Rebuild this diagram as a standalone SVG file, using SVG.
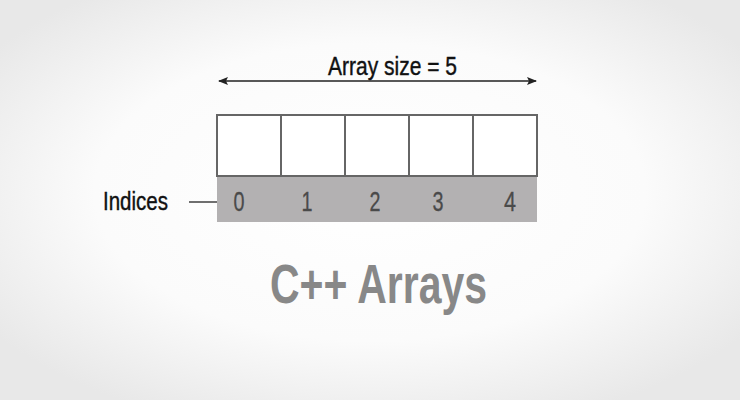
<svg xmlns="http://www.w3.org/2000/svg" width="740" height="400" viewBox="0 0 740 400">
<defs>
<radialGradient id="bg" cx="50%" cy="48%" r="62%">
<stop offset="0" stop-color="#ffffff"/>
<stop offset="0.6" stop-color="#fbfbfb"/>
<stop offset="1" stop-color="#e8e8e8"/>
</radialGradient>
<marker id="ah" viewBox="0 0 10 10" refX="9" refY="5" markerWidth="10" markerHeight="10" markerUnits="userSpaceOnUse" orient="auto-start-reverse">
<path d="M0,1 L10,5 L0,9 L2,5 Z" fill="#222"/>
</marker>
<style>
.cell{fill:#fff;stroke:#666;stroke-width:2}
.idx{font-family:"Liberation Sans",sans-serif;font-size:28px;fill:#4a4a4a;stroke:#4a4a4a;stroke-width:0.3;text-anchor:middle}
.lbl{font-family:"Liberation Sans",sans-serif;font-size:25px;fill:#111;stroke:#111;stroke-width:0.4}
.title{font-family:"Liberation Sans",sans-serif;font-weight:bold;font-size:56px;fill:#888}
</style>
</defs>
<rect width="740" height="400" fill="url(#bg)"/>
<g id="connectors">
<line x1="219" y1="81" x2="536" y2="81" stroke="#222" stroke-width="1.3" marker-start="url(#ah)" marker-end="url(#ah)"/>
<line x1="189" y1="202" x2="218" y2="202" stroke="#222" stroke-width="1.3"/>
</g>
<g id="size-label"><text class="lbl" x="328" y="75" textLength="129" lengthAdjust="spacingAndGlyphs">Array size = 5</text></g>
<g id="array">
<rect x="217" y="176" width="320" height="46" fill="#b3b1b2"/>
<rect class="cell" x="217" y="115" width="64" height="61"/>
<rect class="cell" x="281" y="115" width="64" height="61"/>
<rect class="cell" x="345" y="115" width="64" height="61"/>
<rect class="cell" x="409" y="115" width="64" height="61"/>
<rect class="cell" x="473" y="115" width="64" height="61"/>
</g>
<g id="indices">
<text class="idx" x="239" y="211" textLength="11" lengthAdjust="spacingAndGlyphs">0</text>
<text class="idx" x="307" y="211" textLength="11" lengthAdjust="spacingAndGlyphs">1</text>
<text class="idx" x="375" y="211" textLength="11" lengthAdjust="spacingAndGlyphs">2</text>
<text class="idx" x="438" y="211" textLength="11" lengthAdjust="spacingAndGlyphs">3</text>
<text class="idx" x="510" y="211" textLength="12" lengthAdjust="spacingAndGlyphs">4</text>
</g>
<g id="indices-label"><text class="lbl" x="103" y="210" textLength="65" lengthAdjust="spacingAndGlyphs">Indices</text></g>
<g id="title"><text class="title" x="270" y="303" textLength="217" lengthAdjust="spacingAndGlyphs">C++ Arrays</text></g>
</svg>
